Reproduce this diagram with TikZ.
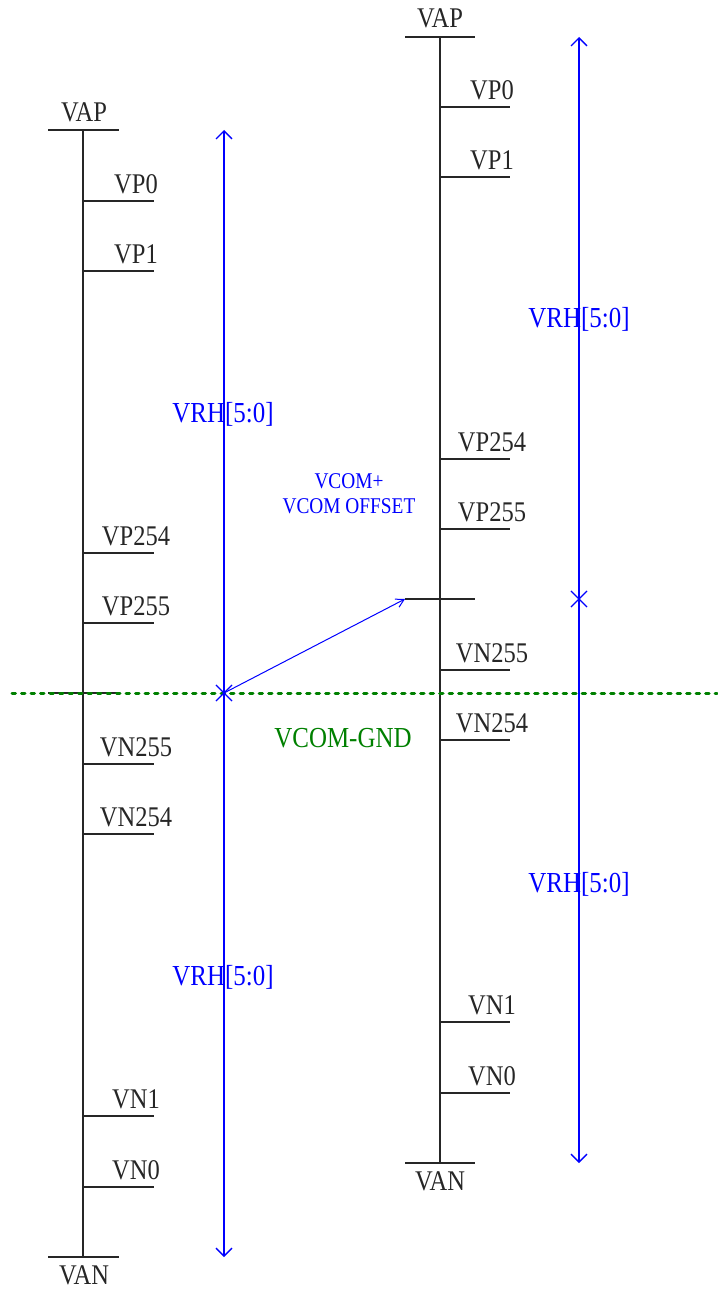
\documentclass[tikz,border=0pt]{standalone}
\usepackage{fontspec}
\setmainfont{Liberation Serif}[FakeStretch=0.86]
\usetikzlibrary{arrows.meta,shapes.misc}
\definecolor{vblue}{HTML}{0000FF}
\definecolor{vgreen}{HTML}{008000}
\begin{document}
\begin{tikzpicture}[x=1pt,y=-1pt,
  rail/.style={draw=black!85,line width=1.5pt},
  tap/.style={draw=black!85,line width=1.3pt},
  lvl/.style={anchor=base,inner sep=0pt,text=black!85,font=\fontsize{28.5}{30}\selectfont},
  vrh/.style={anchor=base,inner sep=0pt,text=vblue,font=\fontsize{29}{30}\selectfont},
  span/.style={draw=vblue,line width=1.3pt,
    {Straight Barb[length=8pt,width=16pt]}-{Straight Barb[length=8pt,width=16pt]}},
  xmark/.style={cross out,draw=vblue,line width=1.1pt,minimum size=15pt,inner sep=0pt},
  gnd/.style={draw=vgreen,line width=3pt,line cap=round,dash pattern=on 3.5pt off 6pt}]
  \useasboundingbox (0,0) rectangle (717,1289);
  % left column
  \coordinate (ltop) at (83,130); \coordinate (lbot) at (83,1257);
  \node[lvl] (lvap) at (84,122) {VAP};
  \node[lvl] (lvan) at (84,1284) {VAN};
  \draw[rail] (48,130) -- (119,130);
  \draw[rail] (48,1257) -- (119,1257);
  \draw[rail] (ltop) -- (lbot);
  \draw[tap] (48,693) -- (119,693);
  \foreach \y/\t [count=\i] in {201/VP0,271/VP1,553/VP254,623/VP255,
      764/VN255,834/VN254,1116/VN1,1187/VN0}{
    \coordinate (lt\i) at (83,\y);
    \draw[tap] (lt\i) -- ++(71,0);
    \node[lvl] (ll\i) at (136,\y-7.5) {\t};
  }
  % right column
  \coordinate (rtop) at (440,37); \coordinate (rbot) at (440,1163);
  \node[lvl] (rvap) at (440,28) {VAP};
  \node[lvl] (rvan) at (440,1190) {VAN};
  \draw[rail] (405,37) -- (475,37);
  \draw[rail] (405,1163) -- (475,1163);
  \draw[rail] (rtop) -- (rbot);
  \coordinate (rmid) at (405,599);
  \draw[tap] (rmid) -- (475,599);
  \foreach \y/\t [count=\i] in {107/VP0,177/VP1,459/VP254,529/VP255,
      670/VN255,740/VN254,1022/VN1,1093/VN0}{
    \coordinate (rt\i) at (440,\y);
    \draw[tap] (rt\i) -- ++(70,0);
    \node[lvl] (rl\i) at (492,\y-7.5) {\t};
  }
  % VCOM-GND level
  \draw[gnd] (12,693) -- (717,693);
  \node[vrh,text=vgreen] (vcgnd) at (343,747) {VCOM-GND};
  % voltage ranges
  \draw[span] (224,1257) -- (224,130);
  \draw[span] (579,1163) -- (579,37);
  \node[xmark] (xl) at (224,693) {};
  \node[xmark] (xr) at (579,599) {};
  \node[vrh] (vrh1) at (223,422) {VRH[5:0]};
  \node[vrh] (vrh2) at (223,985) {VRH[5:0]};
  \node[vrh] (vrh3) at (579,327) {VRH[5:0]};
  \node[vrh] (vrh4) at (579,892) {VRH[5:0]};
  \node[anchor=base,inner sep=0pt,text=vblue,align=center,
    font=\fontsize{22.5}{25}\selectfont] (voff) at (349,513) {VCOM+\\VCOM OFFSET};
  \draw[draw=vblue,line width=1pt,-{Straight Barb[length=8pt,width=9pt]}] (xl.center) -- (rmid);
\end{tikzpicture}
\end{document}
